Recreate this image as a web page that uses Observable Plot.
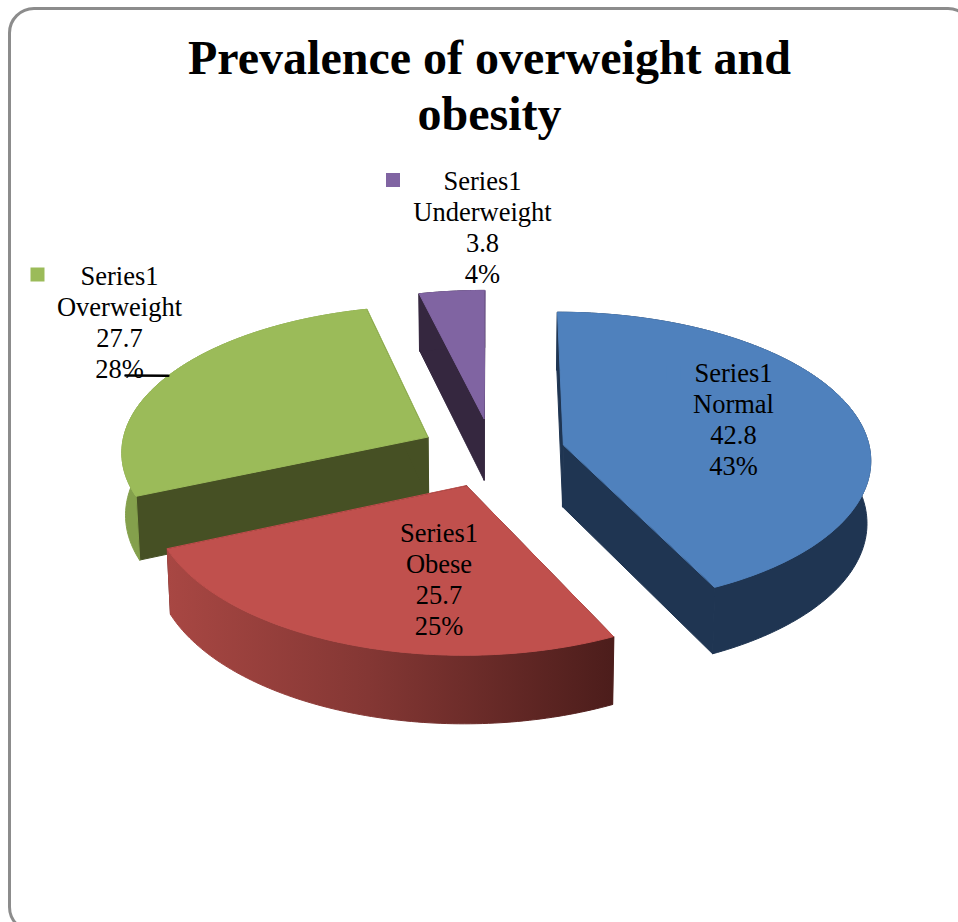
<!DOCTYPE html>
<html>
<head>
<meta charset="utf-8">
<script src="https://cdn.jsdelivr.net/npm/d3@7"></script>
<script src="https://cdn.jsdelivr.net/npm/@observablehq/plot@0.6"></script>
<style>
  html, body { margin: 0; padding: 0; background: #fff; overflow: hidden; }
  #frame { position: absolute; left: 8px; top: 7px; width: 960px; height: 920px;
           border: 3px solid #8c8c8c; border-radius: 26px; box-sizing: content-box; }
  #chart { position: absolute; left: 0; top: 0; }
  svg { display: block; }
</style>
</head>
<body>
<div id="frame"></div>
<div id="chart"></div>
<script>
// ---- data ----
const titleLines = ["Prevalence of overweight and", "obesity"];
const seriesName = "Series1";
const categories = ["Normal", "Obese", "Overweight", "Underweight"];
const values = [42.8, 25.7, 27.7, 3.8];
const percents = ["43%", "25%", "28%", "4%"];

// ---- styles ----
const topColors = ["#4f81bd", "#c0504d", "#9bbb59", "#8064a2"];
const wallColors = ["#1f3552", "#5a2422", "#465024", "#35273f"];
const rimColors = ["#1f3552", "url(#obeseRim)", "#84a04c", "#35273f"];
const paintOrder = [3, 2, 0, 1];

// ---- layout ----
const W = 958, H = 922;
const view = {cx: 492, cy: 452, S: 307, T: 146.5, px: 0.09, py: 0.095, explode: 0.238, D: 63, shrink: 0.99};
const labelCenters = [[733, 418.5], [438.5, 578.5], [119, 321], [482, 226.5]];
const keyOffsets = [[-60, -46], [-62, -46], [-82, -47], [-89.5, -47]];
const fontSize = 26.5;

// ---- geometry derived from the values ----
const total = d3.sum(values);
const cumulative = d3.cumsum(values);
const slices = categories.map((name, i) => {
  const a0 = ((cumulative[i] - values[i]) / total) * 2 * Math.PI;
  const a1 = (cumulative[i] / total) * 2 * Math.PI;
  return {name, i, a0, a1, mid: (a0 + a1) / 2};
});
function project(slice, r, a, bottom) {
  const {cx, cy, S, T, px, py, explode, D, shrink} = view;
  const u = r * Math.sin(a) + explode * Math.sin(slice.mid);
  const v = r * Math.cos(a) + explode * Math.cos(slice.mid);
  const wx = 1 + px * v, wy = 1 + py * v;
  return bottom
    ? {x: cx + shrink * S * u / wx, y: cy + (-T * v + D) / (wy * (2 - shrink))}
    : {x: cx + S * u / wx, y: cy - T * v / wy};
}
function arcAngles(s) {
  const n = Math.max(2, Math.ceil((s.a1 - s.a0) / (Math.PI / 180)));
  return d3.range(n + 1).map(k => s.a0 + (s.a1 - s.a0) * k / n);
}
function face(points, color) {
  return Plot.line(points, {x: "x", y: "y", fill: color, stroke: color, strokeWidth: 1, curve: "linear-closed"});
}
const sliceMarks = paintOrder.flatMap(i => {
  const s = slices[i];
  const angles = arcAngles(s);
  const topRim = angles.map(a => project(s, 1, a, false));
  const botRim = angles.map(a => project(s, 1, a, true));
  const apexTop = project(s, 0, 0, false);
  const apexBot = project(s, 0, 0, true);
  return [
    face([apexTop, topRim[0], botRim[0], apexBot], wallColors[i]),
    face([apexTop, topRim[topRim.length - 1], botRim[botRim.length - 1], apexBot], wallColors[i]),
    face([...topRim, ...botRim.slice().reverse()], rimColors[i]),
    face([apexTop, ...topRim], topColors[i])
  ];
});

// ---- labels ----
const labelRows = categories.map((c, i) => ({
  text: [seriesName, c, values[i].toFixed(1), percents[i]].join("\n"),
  x: labelCenters[i][0], y: labelCenters[i][1]
}));
const keyRows = categories.map((c, i) => ({
  x: labelCenters[i][0] + keyOffsets[i][0],
  y: labelCenters[i][1] + keyOffsets[i][1],
  color: topColors[i]
}));
const titleRows = titleLines.map((t, i) => ({text: t, x: 489, y: 58 + 56 * i}));
const overweight = slices[2];
const leader = [{x: 125, y: 375}, project(overweight, 1, overweight.mid, false)];

const gradient = () => {
  const defs = d3.create("svg:defs");
  const g = defs.append("linearGradient").attr("id", "obeseRim").attr("x1", 0).attr("x2", 1).attr("y1", 0).attr("y2", 0);
  g.append("stop").attr("offset", "0%").attr("stop-color", "#a84743");
  g.append("stop").attr("offset", "45%").attr("stop-color", "#843734");
  g.append("stop").attr("offset", "100%").attr("stop-color", "#4c1d1b");
  return defs.node();
};

const chart = Plot.plot({
  width: W, height: H,
  margin: 0,
  style: {background: "transparent"},
  x: {domain: [0, W], range: [0, W], axis: null},
  y: {domain: [0, H], range: [0, H], axis: null},
  marks: [
    gradient,
    ...sliceMarks,
    Plot.line(leader, {x: "x", y: "y", stroke: "#000", strokeWidth: 2.5}),
    Plot.dot(keyRows, {x: "x", y: "y", symbol: "square", r: 7.9, fill: d => d.color, stroke: "none"}),
    Plot.text(labelRows, {x: "x", y: "y", text: "text", fontFamily: "Liberation Serif", fontSize, lineHeight: 1.17, fill: "#000"}),
    Plot.text(titleRows, {x: "x", y: "y", text: "text", fontFamily: "Liberation Serif", fontSize: 48, fontWeight: "bold", fill: "#000"})
  ]
});
document.getElementById("chart").appendChild(chart);
</script>
</body>
</html>
